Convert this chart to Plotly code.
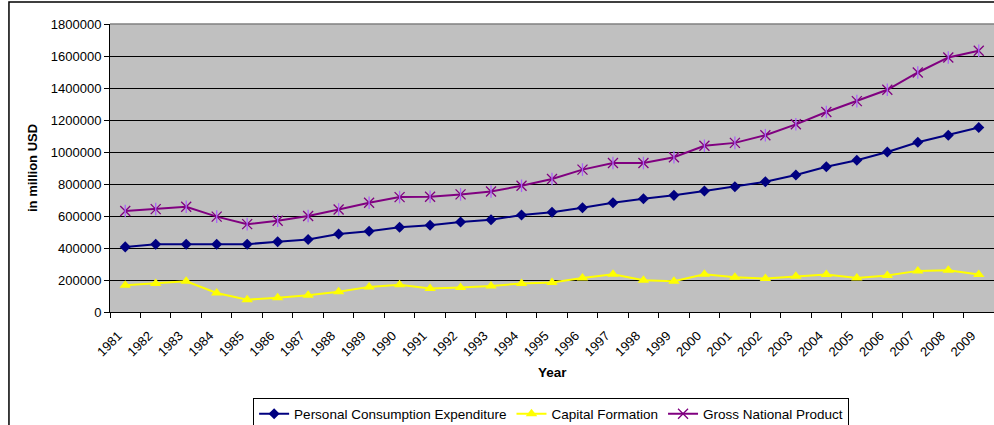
import plotly.graph_objects as go

years = [str(y) for y in range(1981, 2010)]
pce = [407000, 424000, 424000, 424000, 424000, 439000, 453000, 488000,
       505000, 530000, 542000, 563000, 576000, 606000, 623000,
       652000, 683000, 708000, 729000, 756000, 783000, 814000,
       856000, 908000, 948000, 1000000, 1061000, 1105000, 1153000]
capital = [167000, 178000, 192000, 119000, 77000, 89000, 104000, 126000,
           157000, 171000, 147000, 153000, 163000, 178000, 184000,
           213000, 236000, 199000, 192000, 236000, 217000, 209000,
           223000, 234000, 213000, 228000, 257000, 261000, 234000]
gnp = [631000, 643000, 658000, 596000, 549000, 570000, 600000, 641000,
       683000, 718000, 720000, 735000, 753000, 789000, 831000,
       890000, 931000, 931000, 967000, 1039000, 1057000, 1105000,
       1173000, 1250000, 1318000, 1389000, 1497000, 1591000, 1633000]
y_ticks = [0, 200000, 400000, 600000, 800000, 1000000, 1200000, 1400000, 1600000, 1800000]

FONT = "Liberation Sans, Arial, sans-serif"

fig = go.Figure()
fig.add_trace(go.Scatter(x=years, y=pce, name="Personal Consumption Expenditure",
                         mode="lines+markers",
                         line=dict(color="#000080", width=2),
                         marker=dict(symbol="diamond", size=8.5, color="#000080")))
fig.add_trace(go.Scatter(x=years, y=capital, name="Capital Formation",
                         mode="lines+markers",
                         line=dict(color="#FFFF00", width=2),
                         marker=dict(symbol="triangle-up", size=10, color="#FFFF00")))
fig.add_trace(go.Scatter(x=years, y=gnp, name="Gross National Product",
                         mode="lines+markers",
                         line=dict(color="#800080", width=2),
                         marker=dict(symbol="x-thin-open", size=10,
                                     line=dict(color="#800080", width=1.3))))
fig.add_trace(go.Scatter(x=years, y=gnp, showlegend=False, hoverinfo="skip",
                         mode="markers",
                         marker=dict(symbol="line-ns-open", size=9,
                                     line=dict(color="#800080", width=1.3))))

fig.update_layout(
    width=994, height=425,
    margin=dict(l=110, r=0, t=24, b=113, autoexpand=False),
    paper_bgcolor="white",
    plot_bgcolor="#C0C0C0",
    font=dict(family=FONT, size=13, color="black"),
    showlegend=True,
    legend=dict(orientation="h", x=0.499, xanchor="center", y=-0.297, yanchor="top",
                bordercolor="black", borderwidth=1, bgcolor="white",
                font=dict(family=FONT, size=13.5, color="black"),
                itemwidth=30, tracegroupgap=0),
    xaxis=dict(type="category", categoryorder="array", categoryarray=years,
               range=[-0.5, len(years) - 0.5], autorange=False,
               tickson="boundaries", ticks="outside", ticklen=5, tickcolor="black",
               tickangle=-45, ticklabelstandoff=10, ticklabelshift=-7,
               showline=True, linecolor="black", linewidth=1,
               showgrid=False, zeroline=False, automargin=False,
               tickfont=dict(family=FONT, size=13, color="black")),
    yaxis=dict(range=[0, 1800000], autorange=False, tickvals=y_ticks, tickformat="d",
               ticks="outside", ticklen=5, tickcolor="black",
               showline=True, linecolor="black", linewidth=1,
               showgrid=True, gridcolor="black", gridwidth=1, zeroline=False,
               automargin=False,
               tickfont=dict(family=FONT, size=13, color="black")),
    annotations=[
        dict(text="<b>Year</b>", xref="paper", yref="paper", x=0.5, y=-0.21,
             xanchor="center", yanchor="middle", showarrow=False,
             font=dict(family=FONT, size=13.5, color="black")),
        dict(text="<b>in million USD</b>", xref="paper", yref="paper", x=-0.0882, y=0.5,
             xanchor="center", yanchor="middle", showarrow=False, textangle=-90,
             font=dict(family=FONT, size=13, color="black")),
    ],
    shapes=[
        dict(type="line", xref="paper", yref="paper", x0=0, x1=1, y0=1, y1=1,
             line=dict(color="#808080", width=1.5), layer="above"),
        dict(type="rect", xref="paper", yref="paper", x0=-0.1143, x1=1.2, y0=-1.0, y1=1.0764,
             line=dict(color="black", width=1.5), fillcolor="rgba(0,0,0,0)", layer="above"),
    ],
)

fig.write_html("out.html")
